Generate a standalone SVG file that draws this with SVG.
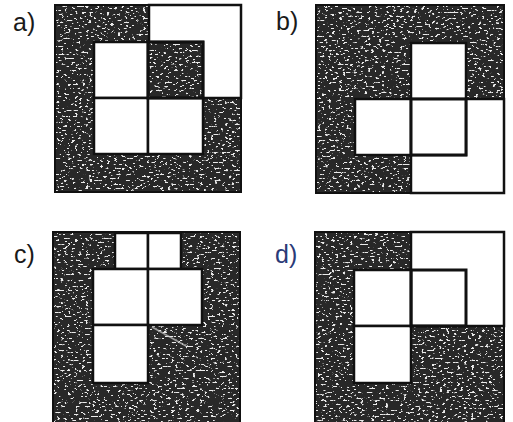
<svg xmlns="http://www.w3.org/2000/svg" width="513" height="422" viewBox="0 0 513 422">
<style>
.lbl{font-family:"Liberation Sans",Arial,sans-serif;font-size:25px;fill:#1a1a1a}
.dark{fill:#282828;filter:url(#speck)}
.frame{fill:none;stroke:#111;stroke-width:2}
.w{fill:#fff;stroke:#111;stroke-width:2.5}
.b{fill:#fff;stroke:#111;stroke-width:3}
.bd{fill:none;stroke:#111;stroke-width:3}
</style>
<defs>
<filter id="speck" x="0" y="0" width="1" height="1" color-interpolation-filters="sRGB">
<feTurbulence type="fractalNoise" baseFrequency="0.28 0.5" numOctaves="2" seed="5" result="n"/>
<feColorMatrix in="n" type="matrix" values="0 0 0 0 0.92 0 0 0 0 0.92 0 0 0 0 0.92 16 0 0 0 -9.9" result="dots"/>
<feComposite in="dots" in2="SourceAlpha" operator="in" result="d2"/>
<feMerge><feMergeNode in="SourceGraphic"/><feMergeNode in="d2"/></feMerge>
</filter>
</defs>
<rect width="513" height="422" fill="#fff"/>
<g id="panel-a">
<rect class="dark" x="55" y="5" width="186" height="187"/>
<path class="w" d="M149 5H241V98H203V42H149Z"/>
<rect class="w" x="94" y="42" width="54" height="56"/>
<rect class="w" x="94" y="98" width="54" height="56"/>
<rect class="w" x="148" y="98" width="55" height="56"/>
<rect class="bd" x="148" y="42" width="55" height="56"/>
<rect class="frame" x="55" y="5" width="186" height="187"/>
<text class="lbl" x="13" y="31">a)</text>
</g>
<g id="panel-b">
<rect class="dark" x="316" y="5" width="188" height="188"/>
<rect class="w" x="411" y="43" width="55" height="56"/>
<path class="w" d="M466 99H504V193H411V155H466Z"/>
<rect class="w" x="355" y="99" width="56" height="56"/>
<rect class="b" x="411" y="99" width="55" height="56"/>
<rect class="frame" x="316" y="5" width="188" height="188"/>
<text class="lbl" x="276" y="30">b)</text>
</g>
<g id="panel-c">
<rect class="dark" x="53" y="232" width="187" height="192"/>
<rect class="w" x="115" y="233" width="33" height="36"/>
<rect class="w" x="148" y="233" width="33" height="36"/>
<rect class="w" x="93" y="269" width="55" height="56"/>
<rect class="w" x="148" y="269" width="54" height="56"/>
<rect class="w" x="93" y="325" width="55" height="58"/>
<path d="M152 327L186 346" stroke="#ccc" stroke-width="1.5" opacity="0.7"/>
<rect class="frame" x="53" y="232" width="187" height="192"/>
<text class="lbl" x="14" y="263">c)</text>
</g>
<g id="panel-d">
<rect class="dark" x="315" y="232" width="189" height="192"/>
<rect class="w" x="411" y="232" width="93" height="94"/>
<rect class="w" x="354" y="270" width="57" height="56"/>
<rect class="w" x="354" y="326" width="57" height="57"/>
<rect class="bd" x="411" y="270" width="55" height="56"/>
<rect class="frame" x="315" y="232" width="189" height="192"/>
<text class="lbl" x="275" y="263" style="fill:#2b3a78">d)</text>
</g>
</svg>
